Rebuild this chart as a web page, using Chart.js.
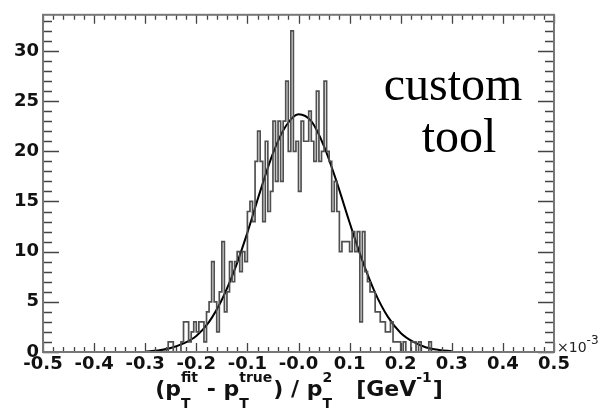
<!DOCTYPE html>
<html>
<head>
<meta charset="utf-8">
<script src="https://cdn.jsdelivr.net/npm/chart.js@4.4.0/dist/chart.umd.min.js"></script>
<style>
  html, body { margin: 0; padding: 0; background: #fff; }
</style>
</head>
<body>
<canvas id="chart-hist" width="611" height="410"></canvas>
<script>
// histogram, bins of 0.005 (x 1e-3 GeV^-1) starting at -0.3
var binStart = -0.3;
var binWidth = 0.005;
var counts = [
  0, 0, 0, 0, 0, 0, 0, 0, 0, 0,
  1, 1, 0, 0, 0, 1, 3, 3, 1, 2,
  3, 2, 3, 3, 1, 4, 5, 9, 5, 2,
  6, 11, 4, 6, 9, 7, 9, 10, 8, 10,
  9, 14, 15, 13, 19, 22, 19, 13, 21, 14,
  16, 23, 17, 23, 17, 23, 27, 20, 32, 20,
  21, 16, 23, 21, 21, 24, 21, 19, 26, 19,
  20, 27, 20, 19, 14, 17, 14, 10, 11, 11,
  11, 10, 12, 10, 12, 3, 12, 8, 7, 6,
  6, 4, 4, 3, 3, 2, 2, 3, 1, 1,
  1, 0, 1, 0, 0, 1, 1, 0, 1, 0,
  0, 0, 1, 0, 0, 0, 0, 0, 0, 0
];

// gaussian fit
var fitX = [-0.3, -0.275, -0.25, -0.225, -0.2, -0.175, -0.15, -0.125, -0.1, -0.075, -0.05, -0.025,
  0, 0.025, 0.05, 0.075, 0.1, 0.125, 0.15, 0.175, 0.2, 0.225, 0.25, 0.275, 0.3];
var fitY = [0.05, 0.15, 0.4, 0.85, 1.6, 3.0, 5.2, 8.2, 11.9, 16.0, 19.8, 22.5,
  23.7, 23.0, 20.5, 16.9, 12.9, 9.1, 5.9, 3.5, 1.9, 1.0, 0.45, 0.2, 0.08];

var xTickLabels = ["-0.5", "-0.4", "-0.3", "-0.2", "-0.1", "-0.0", "0.1", "0.2", "0.3", "0.4", "0.5"];
var yTickLabels = ["0", "5", "10", "15", "20", "25", "30"];

var histPoints = [];
for (var i = 0; i < counts.length; i++) {
  histPoints.push({ x: binStart + i * binWidth, y: counts[i] });
}
histPoints.push({ x: binStart + counts.length * binWidth, y: 0 });

var fitPoints = fitX.map(function(x, i) { return { x: x, y: fitY[i] }; });

var tickFont = { family: "DejaVu Sans", size: 18, weight: "bold" };

// frame, inward ticks and the text bits
var framePlugin = {
  id: "frame",
  afterDraw: function(chart) {
    var c = chart.ctx;
    var a = chart.chartArea;
    var xs = chart.scales.x, ys = chart.scales.y;
    c.save();

    c.strokeStyle = "#444";
    c.lineWidth = 1.3;
    c.beginPath();
    var k, px, py, len;
    for (k = 0; k <= 50; k++) {
      px = Math.round(xs.getPixelForValue(-0.5 + k * 0.02)) + 0.5;
      len = (k % 5 === 0) ? 9 : 5;
      c.moveTo(px, a.bottom); c.lineTo(px, a.bottom - len);
      c.moveTo(px, a.top); c.lineTo(px, a.top + len);
    }
    for (k = 0; k <= 33; k++) {
      py = Math.round(ys.getPixelForValue(k)) + 0.5;
      len = (k % 5 === 0) ? 16 : 9;
      c.moveTo(a.left, py); c.lineTo(a.left + len, py);
      c.moveTo(a.right, py); c.lineTo(a.right - len, py);
    }
    c.stroke();

    c.strokeStyle = "#777";
    c.lineWidth = 2;
    c.strokeRect(a.left, a.top, a.right - a.left, a.bottom - a.top);

    // x10^-3
    c.fillStyle = "#222";
    c.textBaseline = "alphabetic";
    c.textAlign = "left";
    c.font = "14px 'DejaVu Sans'";
    c.fillText("\u00d710", a.right + 3, a.bottom);
    var w = c.measureText("\u00d710").width;
    c.font = "12px 'DejaVu Sans'";
    c.fillText("-3", a.right + 3 + w, a.bottom - 8);

    // x title
    var big = "bold 22px 'DejaVu Sans'";
    var small = "bold 14px 'DejaVu Sans'";
    var parts = [
      { t: "(p" },
      { sub: "T", sup: "fit" },
      { t: " - p" },
      { sub: "T", sup: "true" },
      { t: ") / p" },
      { sub: "T", sup: "2" },
      { t: "   [GeV" },
      { sup: "-1" },
      { t: "]" }
    ];
    function partWidth(p) {
      if (p.t) { c.font = big; return c.measureText(p.t).width; }
      c.font = small;
      return Math.max(p.sub ? c.measureText(p.sub).width : 0, p.sup ? c.measureText(p.sup).width : 0) + 1;
    }
    var total = 0;
    parts.forEach(function(p) { total += partWidth(p); });
    var x = 299 - total / 2;
    var base = 396;
    c.fillStyle = "#111";
    parts.forEach(function(p) {
      var pw = partWidth(p);
      if (p.t) {
        c.font = big; c.fillText(p.t, x, base);
      } else {
        c.font = small;
        if (p.sub) c.fillText(p.sub, x, base + 12);
        if (p.sup) c.fillText(p.sup, x, base - 14);
      }
      x += pw;
    });

    // annotation
    c.fillStyle = "#000";
    c.textAlign = "center";
    c.font = "48px 'Liberation Serif'";
    c.fillText("custom", 453, 100);
    c.fillText("tool", 459, 152);

    c.restore();
  }
};

var ctx = document.getElementById("chart-hist").getContext("2d");
var chart = new Chart(ctx, {
  type: "line",
  data: {
    datasets: [
      {
        label: "hist",
        data: histPoints,
        stepped: "after",
        borderColor: "#505050",
        borderWidth: 1.7,
        pointRadius: 0,
        fill: false
      },
      {
        label: "fit",
        data: fitPoints,
        borderColor: "#000",
        borderWidth: 2,
        pointRadius: 0,
        cubicInterpolationMode: "monotone",
        fill: false
      }
    ]
  },
  options: {
    responsive: false,
    animation: false,
    devicePixelRatio: 1,
    layout: { padding: { top: 9, right: 57, left: 0, bottom: 0 } },
    plugins: {
      legend: { display: false },
      tooltip: { enabled: false }
    },
    scales: {
      x: {
        type: "linear",
        min: -0.5,
        max: 0.5,
        afterFit: function(s) { s.height = 58; },
        grid: { display: false, drawTicks: false },
        border: { display: false },
        ticks: {
          stepSize: 0.1,
          autoSkip: false,
          maxRotation: 0,
          padding: 2,
          color: "#111",
          font: tickFont,
          callback: function(v) { return xTickLabels[Math.round(v * 10) + 5]; }
        }
      },
      y: {
        type: "linear",
        min: 0,
        max: 33.6,
        afterFit: function(s) { s.width = 43; },
        grid: { display: false, drawTicks: false },
        border: { display: false },
        ticks: {
          stepSize: 5,
          includeBounds: false,
          padding: 4,
          color: "#111",
          font: tickFont,
          callback: function(v) { return (v % 5 === 0) ? yTickLabels[v / 5] : ""; }
        }
      }
    }
  },
  plugins: [framePlugin]
});
</script>
</body>
</html>
